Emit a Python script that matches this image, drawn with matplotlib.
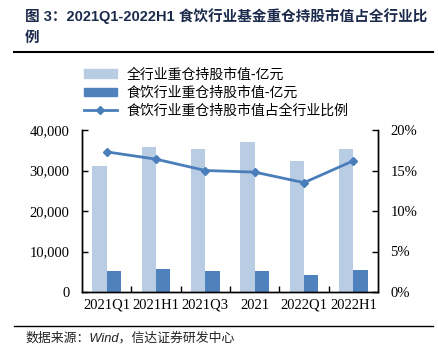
import numpy as np
import matplotlib
matplotlib.use('Agg')
import matplotlib.pyplot as plt
from matplotlib.patches import Patch
from matplotlib.lines import Line2D

# 数据
categories = ['2021Q1', '2021H1', '2021Q3', '2021', '2022Q1', '2022H1']
total_value = [31200, 35900, 35400, 37000, 32300, 35400]   # 全行业重仓持股市值-亿元
food_value = [5200, 5600, 5100, 5200, 4100, 5500]          # 食饮行业重仓持股市值-亿元
food_ratio = [17.3, 16.4, 15.0, 14.8, 13.5, 16.2]          # 占比 %

label_total = '全行业重仓持股市值-亿元'
label_food = '食饮行业重仓持股市值-亿元'
label_ratio = '食饮行业重仓持股市值占全行业比例'

LIGHT = '#b8cce4'
DARK = '#4f81bd'
LINE = '#4a7ebb'
CJK = ['Noto Sans CJK SC', 'DejaVu Sans']
SERIF = ['Liberation Serif', 'Noto Sans CJK SC']

plt.rcParams['font.family'] = CJK

fig = plt.figure(figsize=(4.39, 3.57), dpi=100)
ax = fig.add_axes([82 / 439, 1 - 292 / 357, (378 - 82) / 439, 162 / 357])
ax2 = ax.twinx()

x = np.arange(len(categories))
w = 0.29
ax.bar(x - w / 2, total_value, w, color=LIGHT, zorder=2)
ax.bar(x + w / 2, food_value, w, color=DARK, zorder=2)
ax2.plot(x, food_ratio, color=LINE, lw=2, marker='D', ms=4.5, zorder=3)

ax.set_xlim(-0.5, len(categories) - 0.5)
ax.set_ylim(0, 40000)
ax.set_yticks(np.arange(0, 40001, 10000))
ax.set_yticklabels(['{:,}'.format(v) for v in range(0, 40001, 10000)], family=SERIF, fontsize=10.5)
ax2.set_ylim(0, 20)
ax2.set_yticks(np.arange(0, 21, 5))
ax2.set_yticklabels(['{}%'.format(v) for v in range(0, 21, 5)], family=SERIF, fontsize=10.5)

ax.set_xticks(x)
ax.set_xticklabels(categories, family=SERIF, fontsize=10.5)
ax.set_xticks(np.arange(0.5, len(categories) - 1, 1), minor=True)
ax.tick_params(axis='x', which='major', length=0, pad=5)
ax.tick_params(axis='x', which='minor', direction='in', length=4, width=1)
ax.tick_params(axis='y', direction='in', length=4, width=1, pad=9)
ax2.tick_params(axis='y', direction='in', length=4, width=1, pad=9)

for a in (ax, ax2):
    a.spines['top'].set_visible(False)
    for s in ('left', 'right', 'bottom'):
        a.spines[s].set_linewidth(1)
        a.spines[s].set_color('black')

# 图例
handles = [Patch(color=LIGHT), Patch(color=DARK),
           Line2D([], [], color=LINE, lw=2, marker='D', ms=4.5)]
fig.legend(handles, [label_total, label_food, label_ratio], loc='upper left',
           bbox_to_anchor=(78 / 439, 1 - 62 / 357), frameon=False, fontsize=10,
           handlelength=2.4, handleheight=0.55, labelspacing=0.3, handletextpad=0.7,
           borderaxespad=0)

# 标题
title_color = '#1c2b4c'
fig.text(25 / 439, 1 - 16 / 357, '图 3：2021Q1-2022H1 食饮行业基金重仓持股市值占全行业比',
         fontsize=10.5, fontweight='bold', color=title_color, va='center', ha='left',
         family=['Liberation Sans', 'Noto Sans CJK SC'])
fig.text(25 / 439, 1 - 37 / 357, '例', fontsize=10.5, fontweight='bold',
         color=title_color, va='center', ha='left', family=CJK)
fig.add_artist(Line2D([14 / 439, 433 / 439], [1 - 52 / 357] * 2, color='black', lw=1.5))
fig.add_artist(Line2D([14 / 439, 433 / 439], [1 - 326 / 357] * 2, color='black', lw=1))
fig.text(25 / 439, 1 - 338 / 357, '数据来源：Wind，信达证券研发中心', fontsize=9.3,
         style='italic', color='#222222', va='center', ha='left',
         family=['Liberation Sans', 'Noto Sans CJK SC'])

fig.savefig('out.png', dpi=100)
